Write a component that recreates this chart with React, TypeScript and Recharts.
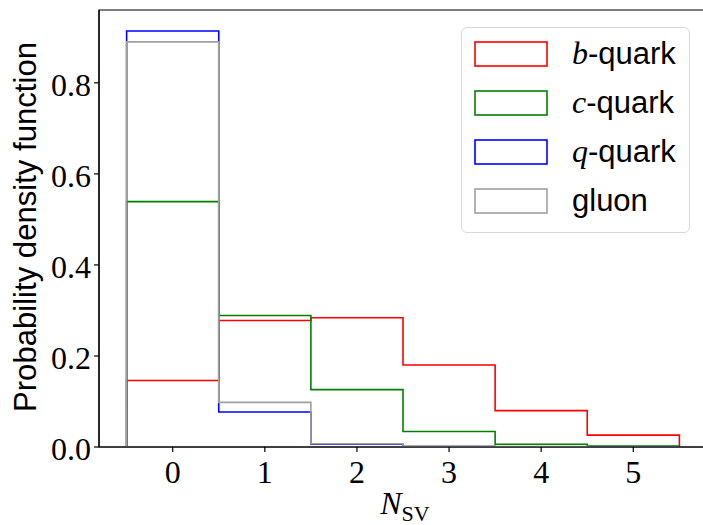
import { LineChart, Line, XAxis, YAxis, Legend, ReferenceArea, Label } from 'recharts';

// Histogram of number of secondary vertices, one bin per integer value
const binCenters = [0, 1, 2, 3, 4, 5];
const bQuark = [0.146, 0.278, 0.284, 0.18, 0.08, 0.026];
const cQuark = [0.539, 0.289, 0.126, 0.034, 0.006, 0.002];
const qQuark = [0.914, 0.077, 0.006, 0.001, 0.0, 0.0];
const gluon = [0.89, 0.098, 0.007, 0.002, 0.001, 0.0];

const seriesKeys = ['b', 'c', 'q', 'g'];
const seriesValues = [bQuark, cQuark, qQuark, gluon];
const mathPrefix = ['b', 'c', 'q', ''];
const labelText = ['-quark', '-quark', '-quark', 'gluon'];
const yTicks = [0, 0.2, 0.4, 0.6, 0.8];

const colors = ['#ff0000', '#008000', '#0000ff', '#a0a0a0'];

const serif = '"Liberation Serif", "DejaVu Serif", serif';
const sans = '"Liberation Sans", Arial, sans-serif';

// step outline: start at baseline on the left edge, go over every bin, drop back on the right edge
const stepRows = (() => {
  const rows: Record<string, number>[] = [];
  const first: Record<string, number> = { x: binCenters[0] - 0.5 };
  seriesKeys.forEach((k) => (first[k] = 0));
  rows.push(first);
  binCenters.forEach((c, i) => {
    const row: Record<string, number> = { x: c - 0.5 };
    seriesKeys.forEach((k, s) => (row[k] = seriesValues[s][i]));
    rows.push(row);
  });
  const lastIdx = binCenters.length - 1;
  const end: Record<string, number> = { x: binCenters[lastIdx] + 0.5 };
  seriesKeys.forEach((k, s) => (end[k] = seriesValues[s][lastIdx]));
  rows.push(end);
  const close: Record<string, number> = { x: binCenters[lastIdx] + 0.5 };
  seriesKeys.forEach((k) => (close[k] = 0));
  rows.push(close);
  return rows;
})();

function XTick({ x, y, payload }: any) {
  return (
    <text x={x} y={y} dy={31} textAnchor="middle" fontFamily={serif} fontSize={32} fill="#000">
      {payload.value}
    </text>
  );
}

function YTick({ x, y, payload }: any) {
  return (
    <text x={x} y={y} dy={13} textAnchor="end" fontFamily={serif} fontSize={32} fill="#000">
      {payload.value.toFixed(1)}
    </text>
  );
}

function HistLegend() {
  return (
    <div
      style={{
        position: 'relative',
        width: 229,
        height: 206,
        boxSizing: 'border-box',
        border: '1.3px solid #d9d9d9',
        borderRadius: 6,
        background: 'rgba(255,255,255,0.8)',
      }}
    >
      {seriesKeys.map((k, i) => (
        <div
          key={k}
          style={{
            position: 'absolute',
            left: 0,
            top: 1 + i * 49,
            height: 49,
            display: 'flex',
            alignItems: 'center',
          }}
        >
          <svg width={74} height={26} style={{ marginLeft: 12 }}>
            <rect x={1} y={1} width={72} height={24} fill="none" stroke={colors[i]} strokeWidth={1.6} />
          </svg>
          <span style={{ marginLeft: 24, fontFamily: sans, fontSize: 31, color: '#000', whiteSpace: 'nowrap' }}>
            {mathPrefix[i] && <span style={{ fontFamily: serif, fontStyle: 'italic', fontSize: 32 }}>{mathPrefix[i]}</span>}
            {labelText[i]}
          </span>
        </div>
      ))}
    </div>
  );
}

export default function App() {
  return (
    <div style={{ position: 'absolute', left: 0, top: 0, width: 703, height: 525, overflow: 'hidden', background: '#fff' }}>
      <LineChart width={708} height={525} data={stepRows} margin={{ top: 10, right: 1, left: 0, bottom: 0 }}>
        <XAxis
          type="number"
          dataKey="x"
          domain={[-0.8, 5.8]}
          allowDataOverflow
          ticks={binCenters}
          height={78}
          tickSize={5}
          tickMargin={0}
          tick={<XTick />}
          axisLine={{ stroke: '#000', strokeWidth: 1.2 }}
          tickLine={{ stroke: '#000', strokeWidth: 1.2 }}
        >
          <Label
            content={({ viewBox }: any) => (
              <text x={viewBox.x + viewBox.width / 2 + 2} y={514} textAnchor="middle" fontFamily={serif} fill="#000">
                <tspan fontStyle="italic" fontSize={32}>N</tspan>
                <tspan fontSize={22} dy={7}>SV</tspan>
              </text>
            )}
          />
        </XAxis>
        <YAxis
          type="number"
          domain={[0, 0.96]}
          allowDataOverflow
          ticks={yTicks}
          width={99}
          tickSize={5}
          tickMargin={3}
          tick={<YTick />}
          axisLine={{ stroke: '#000', strokeWidth: 1.2 }}
          tickLine={{ stroke: '#000', strokeWidth: 1.2 }}
        >
          <Label
            content={() => (
              <text
                x={36}
                y={227}
                transform="rotate(-90, 36, 227)"
                textAnchor="middle"
                fontFamily={sans}
                fontSize={31}
                fill="#000"
                textLength={370}
                lengthAdjust="spacingAndGlyphs"
              >
                Probability density function
              </text>
            )}
          />
        </YAxis>
        <ReferenceArea x1={-0.8} x2={5.8} y1={0} y2={0.96} fill="none" stroke="#000" strokeWidth={1.2} />
        {seriesKeys.map((k, i) => (
          <Line
            key={k}
            dataKey={k}
            type="stepAfter"
            stroke={colors[i]}
            strokeWidth={1.6}
            dot={false}
            activeDot={false}
            isAnimationActive={false}
          />
        ))}
        <Legend
          layout="vertical"
          align="center"
          verticalAlign="middle"
          wrapperStyle={{ left: 461, top: 27, width: 229 }}
          content={() => <HistLegend />}
        />
      </LineChart>
    </div>
  );
}
